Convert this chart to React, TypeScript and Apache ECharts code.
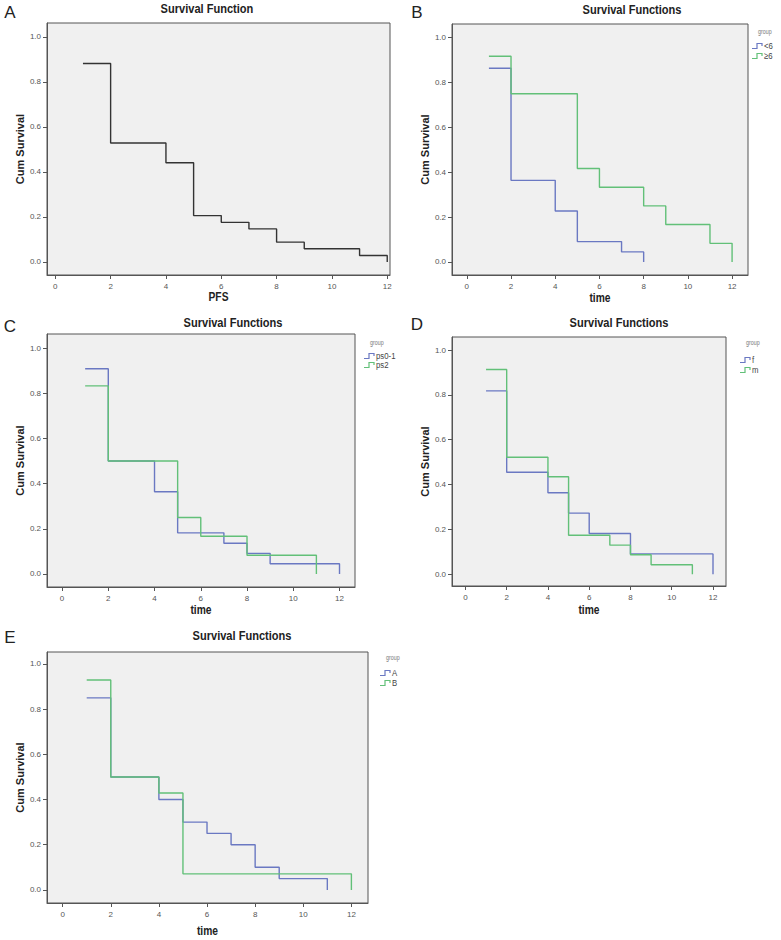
import React, { useEffect, useRef } from "react";
import * as echarts from "echarts";

// ---- data ----
const xTicks = [0, 2, 4, 6, 8, 10, 12];
const yTicks = [0, 0.2, 0.4, 0.6, 0.8, 1.0];

const timesA = [1, 2, 4, 5, 6, 7, 8, 9, 11, 12];
const survA = [0.882, 0.529, 0.441, 0.206, 0.176, 0.147, 0.088, 0.059, 0.029, 0];

const timesB1 = [1, 2, 4, 5, 7, 8];
const survB1 = [0.864, 0.364, 0.227, 0.091, 0.045, 0];
const timesB2 = [1, 2, 5, 6, 8, 9, 11, 12];
const survB2 = [0.917, 0.75, 0.417, 0.333, 0.25, 0.167, 0.083, 0];

const timesC1 = [1, 2, 4, 5, 7, 8, 9, 12];
const survC1 = [0.909, 0.5, 0.364, 0.182, 0.136, 0.091, 0.045, 0];
const timesC2 = [1, 2, 5, 6, 8, 11];
const survC2 = [0.833, 0.5, 0.25, 0.167, 0.083, 0];

const timesD1 = [1, 2, 4, 5, 6, 8, 12];
const survD1 = [0.818, 0.455, 0.364, 0.273, 0.182, 0.091, 0];
const timesD2 = [1, 2, 4, 5, 7, 8, 9, 11];
const survD2 = [0.913, 0.522, 0.435, 0.174, 0.13, 0.087, 0.043, 0];

const timesE1 = [1, 2, 4, 5, 6, 7, 8, 9, 11];
const survE1 = [0.85, 0.5, 0.4, 0.3, 0.25, 0.2, 0.1, 0.05, 0];
const timesE2 = [1, 2, 4, 5, 12];
const survE2 = [0.929, 0.5, 0.429, 0.071, 0];

const groupsB = ["<6", "≥6"];
const groupsC = ["ps0-1", "ps2"];
const groupsD = ["f", "m"];
const groupsE = ["A", "B"];

// ---- styles ----
const BLUE = "#6a78c2";
const GREEN = "#62c078";
const BLACK = "#333333";
const AXIS = "#555555";
const FONT = '"Liberation Sans", Arial, sans-serif';
const SQUEEZE = 0.82;

const zip = (t: number[], s: number[]) => t.map((v, i) => [v, s[i]]);

type Panel = {
  letter: string;
  title: string;
  grid: { left: number; top: number; width: number; height: number };
  xr: [number, number];
  yr: [number, number];
  xName: string;
  xNameY: number;
  yGap: number;
  titleX: number;
  titleY: number;
  letterX: number;
  letterY: number;
  series: { name: string; data: number[][]; color: string }[];
  legend?: { x: number; y: number; itemY: number[] };
};

const panels: Panel[] = [
  {
    letter: "A", title: "Survival Function",
    grid: { left: 47, top: 23, width: 343, height: 252 },
    xr: [-0.3, 12.1], yr: [-0.058, 1.062], xName: "PFS", xNameY: 297, yGap: 21,
    titleX: 207, titleY: 9, letterX: 10, letterY: 12,
    series: [{ name: "Survival", data: zip(timesA, survA), color: BLACK }],
  },
  {
    letter: "B", title: "Survival Functions",
    grid: { left: 452, top: 24, width: 296, height: 251 },
    xr: [-0.67, 12.72], yr: [-0.058, 1.061], xName: "time", xNameY: 298, yGap: 19,
    titleX: 632, titleY: 10, letterX: 417, letterY: 12,
    series: [
      { name: groupsB[0], data: zip(timesB1, survB1), color: BLUE },
      { name: groupsB[1], data: zip(timesB2, survB2), color: GREEN },
    ],
    legend: { x: 752, y: 32, itemY: [46, 56] },
  },
  {
    letter: "C", title: "Survival Functions",
    grid: { left: 47, top: 334, width: 308, height: 253 },
    xr: [-0.65, 12.67], yr: [-0.058, 1.063], xName: "time", xNameY: 610, yGap: 19,
    titleX: 233, titleY: 323, letterX: 10, letterY: 326,
    series: [
      { name: groupsC[0], data: zip(timesC1, survC1), color: BLUE },
      { name: groupsC[1], data: zip(timesC2, survC2), color: GREEN },
    ],
    legend: { x: 364, y: 343, itemY: [356, 365] },
  },
  {
    letter: "D", title: "Survival Functions",
    grid: { left: 452, top: 337, width: 274, height: 249 },
    xr: [-0.65, 12.63], yr: [-0.052, 1.058], xName: "time", xNameY: 610, yGap: 19,
    titleX: 619, titleY: 323, letterX: 417, letterY: 324,
    series: [
      { name: groupsD[0], data: zip(timesD1, survD1), color: BLUE },
      { name: groupsD[1], data: zip(timesD2, survD2), color: GREEN },
    ],
    legend: { x: 740, y: 343, itemY: [360, 370] },
  },
  {
    letter: "E", title: "Survival Functions",
    grid: { left: 47, top: 652, width: 321, height: 251 },
    xr: [-0.65, 12.69], yr: [-0.058, 1.053], xName: "time", xNameY: 931, yGap: 21,
    titleX: 242, titleY: 636, letterX: 10, letterY: 637,
    series: [
      { name: groupsE[0], data: zip(timesE1, survE1), color: BLUE },
      { name: groupsE[1], data: zip(timesE2, survE2), color: GREEN },
    ],
    legend: { x: 380, y: 658, itemY: [673, 683] },
  },
];

function squeezedText(x: number, y: number, text: string, size: number, bold: boolean, fill: string, align = "center") {
  return {
    type: "text",
    x,
    y,
    scaleX: SQUEEZE,
    scaleY: 1,
    style: {
      text, fontFamily: FONT, fontWeight: bold ? "bold" : "normal", fontSize: size,
      fill, textAlign: align, textVerticalAlign: "middle",
    },
  };
}

function buildOption() {
  const grid: any[] = [];
  const xAxis: any[] = [];
  const yAxis: any[] = [];
  const series: any[] = [];
  const graphic: any[] = [];

  panels.forEach((p, i) => {
    grid.push({
      ...p.grid,
      show: true,
      backgroundColor: "#f0f0f0",
      borderColor: AXIS,
      borderWidth: 1,
      containLabel: false,
      outerBoundsMode: "none",
    });
    xAxis.push({
      gridIndex: i,
      type: "value",
      min: p.xr[0],
      max: p.xr[1],
      axisLine: { show: true, onZero: false, lineStyle: { color: AXIS, width: 1 } },
      axisTick: { show: true, inside: false, length: 4, customValues: xTicks, lineStyle: { color: AXIS } },
      axisLabel: {
        show: true, customValues: xTicks, margin: 7,
        fontFamily: FONT, fontSize: 8, color: "#555",
        formatter: (v: number) => String(v),
      },
      splitLine: { show: false },
    });
    yAxis.push({
      gridIndex: i,
      type: "value",
      min: p.yr[0],
      max: p.yr[1],
      name: "Cum Survival",
      nameLocation: "middle",
      nameGap: p.yGap,
      nameRotate: 90,
      nameTextStyle: { fontFamily: FONT, fontWeight: "bold", fontSize: 11, color: "#222" },
      axisLine: { show: true, onZero: false, lineStyle: { color: AXIS, width: 1 } },
      axisTick: { show: true, inside: false, length: 4, customValues: yTicks, lineStyle: { color: AXIS } },
      axisLabel: {
        show: true, customValues: yTicks, margin: 6,
        fontFamily: FONT, fontSize: 8, color: "#555",
        formatter: (v: number) => v.toFixed(1),
      },
      splitLine: { show: false },
    });
    p.series.forEach((s) => {
      series.push({
        type: "line",
        name: s.name,
        xAxisIndex: i,
        yAxisIndex: i,
        step: "end",
        data: s.data,
        showSymbol: false,
        symbol: "none",
        lineStyle: { color: s.color, width: 1.4 },
        itemStyle: { color: s.color },
        silent: true,
      });
    });
    graphic.push(squeezedText(p.titleX, p.titleY, p.title, 13.5, true, "#222"));
    graphic.push(squeezedText(p.grid.left + p.grid.width / 2, p.xNameY, p.xName, 12.5, true, "#222"));
    graphic.push({
      type: "text",
      x: p.letterX,
      y: p.letterY,
      style: {
        text: p.letter, fontFamily: FONT, fontSize: 17,
        fill: "#222", textAlign: "center", textVerticalAlign: "middle",
      },
    });
    if (p.legend) {
      const lg = p.legend;
      graphic.push(squeezedText(lg.x + 6, lg.y, "group", 6.5, false, "#777", "left"));
      p.series.forEach((s, k) => {
        const yy = lg.itemY[k];
        graphic.push({
          type: "polyline",
          x: lg.x,
          y: yy - 2.5,
          shape: { points: [[0, 5], [5, 5], [5, 0], [10, 0], [10, 2.5]] },
          style: { stroke: s.color, lineWidth: 1.2, fill: null },
        });
        graphic.push(squeezedText(lg.x + 12, yy, s.name, 9.5, false, "#444", "left"));
      });
    }
  });

  return { animation: false, backgroundColor: "#ffffff", grid, xAxis, yAxis, series, graphic };
}

export default function App() {
  const ref = useRef<HTMLDivElement>(null);
  useEffect(() => {
    if (!ref.current) return;
    const chart = echarts.init(ref.current, null, { renderer: "svg" });
    chart.setOption(buildOption() as any);
    return () => chart.dispose();
  }, []);
  return (
    <div
      ref={ref}
      style={{ position: "absolute", left: 0, top: 0, width: 781, height: 940, background: "#fff" }}
    />
  );
}
